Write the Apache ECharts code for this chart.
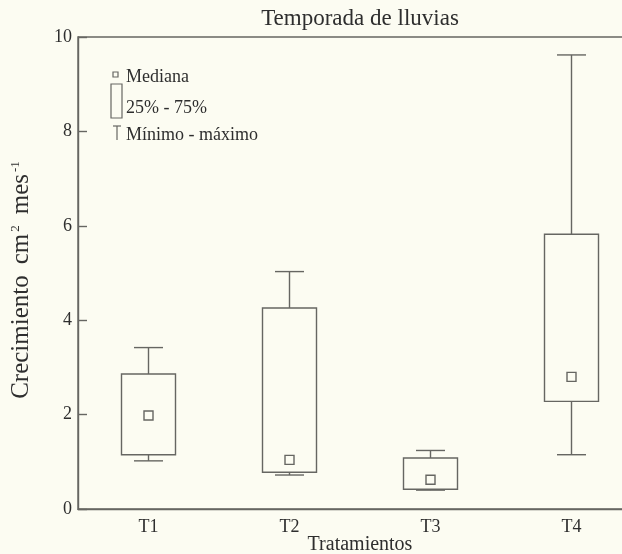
<!DOCTYPE html>
<html>
<head>
<meta charset="utf-8">
<script src="https://cdn.jsdelivr.net/npm/echarts@6/dist/echarts.min.js"></script>
<style>
html,body{margin:0;padding:0;background:#fcfcf2;}
#c{width:622px;height:554px;}
</style>
</head>
<body>
<div id="c"></div>
<script>
var categories = ['T1', 'T2', 'T3', 'T4'];
var minVals    = [1.02, 0.72, 0.40, 1.15];
var q1Vals     = [1.15, 0.78, 0.42, 2.28];
var medianVals = [1.98, 1.04, 0.62, 2.80];
var q3Vals     = [2.86, 4.26, 1.08, 5.82];
var maxVals    = [3.42, 5.03, 1.24, 9.62];
var yTicks = [0, 2, 4, 6, 8, 10];

var LINE = '#666662';
var TEXT = '#2e2e2e';
var BG = '#fcfcf2';
var FONT = '"Liberation Serif", "Times New Roman", serif';

var boxData = categories.map(function (c, i) {
  return [i, minVals[i], q1Vals[i], medianVals[i], q3Vals[i], maxVals[i]];
});

function renderBox(params, api) {
  var xi = api.value(0);
  var pMin = api.coord([xi, api.value(1)]);
  var pQ1 = api.coord([xi, api.value(2)]);
  var pMed = api.coord([xi, api.value(3)]);
  var pQ3 = api.coord([xi, api.value(4)]);
  var pMax = api.coord([xi, api.value(5)]);
  var cx = pMin[0];
  var bw = 54, cw = 29, ms = 9;
  var st = {stroke: LINE, lineWidth: 1.4, fill: null};
  return {
    type: 'group',
    children: [
      {type: 'line', shape: {x1: cx, y1: pMax[1], x2: cx, y2: pQ3[1]}, style: st},
      {type: 'line', shape: {x1: cx - cw / 2, y1: pMax[1], x2: cx + cw / 2, y2: pMax[1]}, style: st},
      {type: 'line', shape: {x1: cx, y1: pQ1[1], x2: cx, y2: pMin[1]}, style: st},
      {type: 'line', shape: {x1: cx - cw / 2, y1: pMin[1], x2: cx + cw / 2, y2: pMin[1]}, style: st},
      {type: 'rect', shape: {x: cx - bw / 2, y: pQ3[1], width: bw, height: pQ1[1] - pQ3[1]}, style: st},
      {type: 'rect', shape: {x: cx - ms / 2, y: pMed[1] - ms / 2, width: ms, height: ms}, style: {stroke: LINE, lineWidth: 1.4, fill: BG}}
    ]
  };
}

var chart = echarts.init(document.getElementById('c'), null, {renderer: 'canvas'});
chart.setOption({
  backgroundColor: BG,
  animation: false,
  textStyle: {fontFamily: FONT},
  title: {
    text: 'Temporada de lluvias',
    left: 355, top: 2, textAlign: 'center',
    textStyle: {fontFamily: FONT, fontSize: 23, fontWeight: 'normal', color: TEXT}
  },
  grid: {
    left: 78, top: 37, width: 564, height: 472,
    outerBoundsMode: 'none',
    containLabel: false,
    show: true, borderColor: LINE, borderWidth: 1.4, backgroundColor: 'transparent'
  },
  xAxis: {
    type: 'category',
    data: categories,
    name: 'Tratamientos',
    nameLocation: 'middle',
    nameGap: 26,
    nameMoveOverlap: false,
    nameTextStyle: {fontFamily: FONT, fontSize: 20, color: TEXT},
    axisLine: {lineStyle: {color: LINE, width: 1.4}},
    axisTick: {inside: true, alignWithLabel: true, length: 8, lineStyle: {color: LINE, width: 1.4}},
    axisLabel: {fontFamily: FONT, fontSize: 18, color: TEXT, margin: 9},
    splitLine: {show: false}
  },
  yAxis: {
    type: 'value',
    min: 0, max: 10, interval: 2,
    name: '{a|Crecimiento}{b|cm}{s|2}{b|mes}{s|-1}',
    nameLocation: 'middle',
    nameGap: 44,
    nameMoveOverlap: false,
    nameTextStyle: {
      fontFamily: FONT, color: TEXT,
      padding: [0, 14, 0, 0],
      rich: {
        a: {fontFamily: FONT, fontSize: 25, color: TEXT},
        b: {fontFamily: FONT, fontSize: 25, color: TEXT, padding: [0, 0, 0, 11]},
        s: {fontFamily: FONT, fontSize: 13, color: TEXT, verticalAlign: 'top', padding: [0, 0, 0, 2]}
      }
    },
    axisLine: {show: true, lineStyle: {color: LINE, width: 1.4}},
    axisTick: {show: true, inside: true, length: 9, lineStyle: {color: LINE, width: 1.4}},
    axisLabel: {fontFamily: FONT, fontSize: 18, color: TEXT, margin: 6,
      formatter: function (v) { return yTicks.indexOf(v) >= 0 ? String(v) : ''; }},
    splitLine: {show: false}
  },
  series: [{
    type: 'custom',
    renderItem: renderBox,
    encode: {x: 0, y: [1, 2, 3, 4, 5]},
    data: boxData,
    z: 5
  }],
  graphic: [
    {type: 'rect', shape: {x: 113, y: 72, width: 5, height: 5}, style: {stroke: LINE, lineWidth: 1.2, fill: BG}},
    {type: 'text', x: 126, y: 68, style: {text: 'Mediana', font: '18px ' + FONT, fill: TEXT}},
    {type: 'rect', shape: {x: 111, y: 84, width: 11, height: 34}, style: {stroke: LINE, lineWidth: 1.2, fill: 'none'}},
    {type: 'text', x: 126, y: 99, style: {text: '25% - 75%', font: '18px ' + FONT, fill: TEXT}},
    {type: 'line', shape: {x1: 113, y1: 126, x2: 121, y2: 126}, style: {stroke: LINE, lineWidth: 1.2}},
    {type: 'line', shape: {x1: 117, y1: 126, x2: 117, y2: 140}, style: {stroke: LINE, lineWidth: 1.2}},
    {type: 'text', x: 126, y: 126, style: {text: 'Mínimo - máximo', font: '18px ' + FONT, fill: TEXT}}
  ]
});
</script>
</body>
</html>
